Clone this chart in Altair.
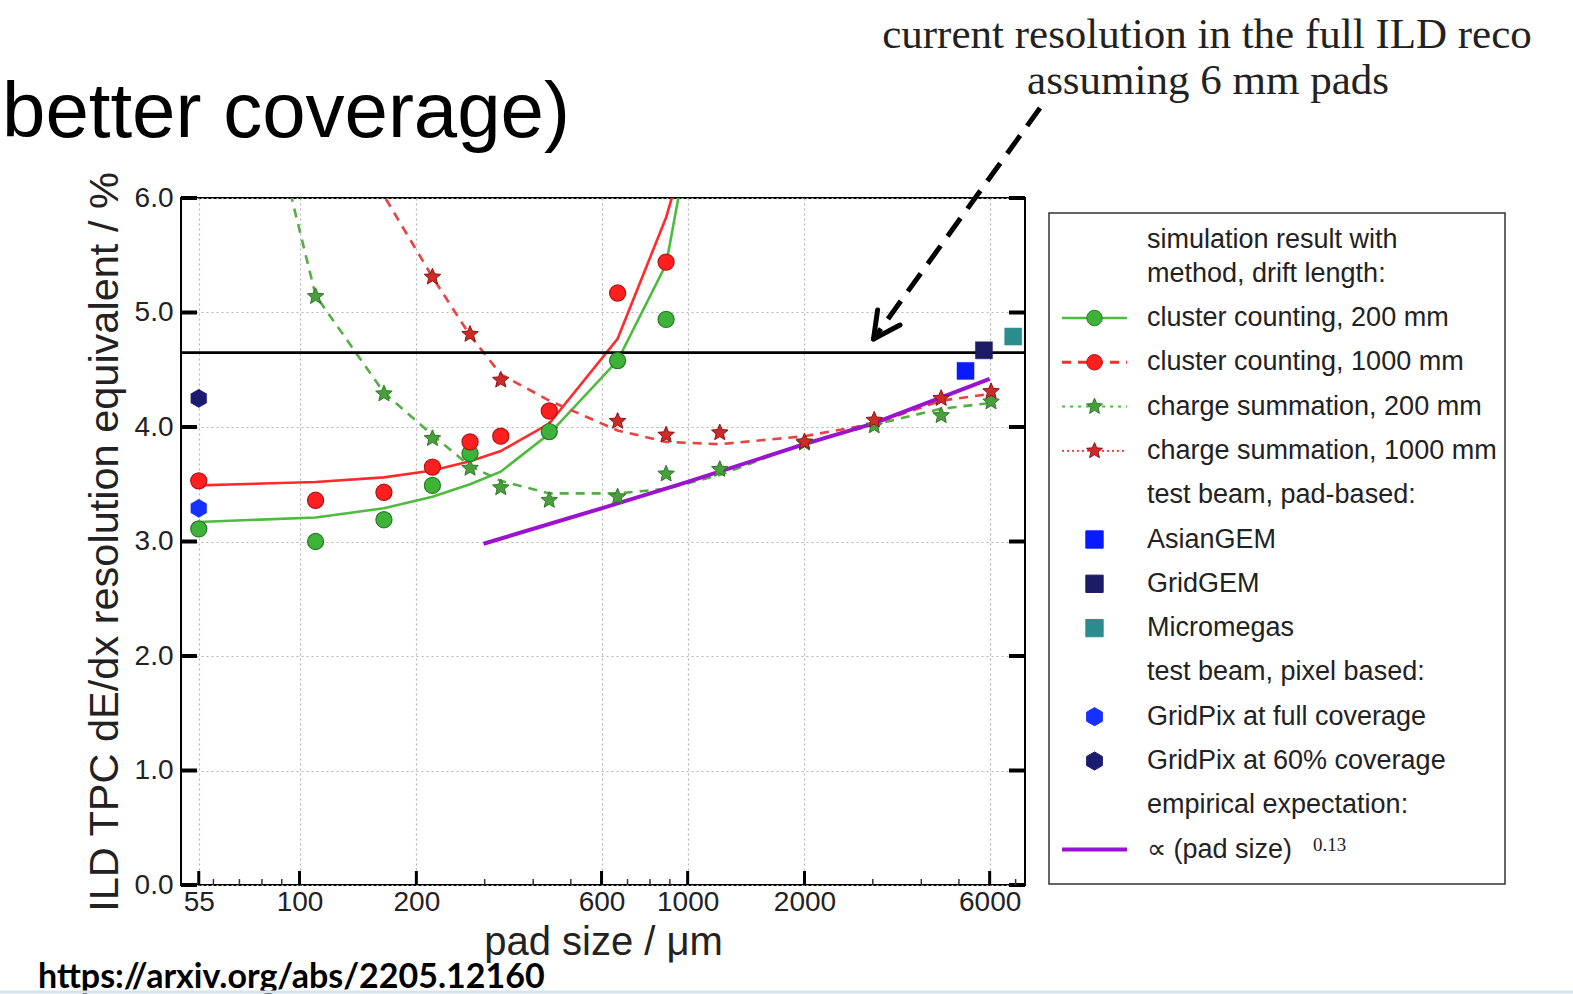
import math

import altair as alt
import pandas as pd

# ---------------- data: pad size in µm, dE/dx resolution in % ----------------
# simulation, cluster counting (points)
CC200_PAD = [55, 110, 165, 220, 275, 440, 660, 880]
CC200_RES = [3.11, 3.00, 3.19, 3.49, 3.77, 3.96, 4.58, 4.94]
CC1000_PAD = [55, 110, 165, 220, 275, 330, 440, 660, 880]
CC1000_RES = [3.53, 3.36, 3.43, 3.65, 3.87, 3.92, 4.14, 5.17, 5.44]

# simulation, charge summation (points)
CS200_PAD = [110, 165, 220, 275, 330, 440, 660, 880, 1210, 2000, 3025, 4500, 6050]
CS200_RES = [5.14, 4.29, 3.90, 3.64, 3.47, 3.36, 3.39, 3.59, 3.63, 3.86, 4.01, 4.10, 4.22]
CS1000_PAD = [220, 275, 330, 440, 660, 880, 1210, 2000, 3025, 4500, 6050]
CS1000_RES = [5.31, 4.81, 4.41, 3.97, 4.05, 3.93, 3.95, 3.87, 4.06, 4.25, 4.31]

# fitted curves
CC_FIT_PAD = [55, 110, 165, 220, 275, 330, 440, 660, 880, 1100]
CC200_FIT = [3.17, 3.21, 3.29, 3.39, 3.50, 3.61, 3.94, 4.58, 5.42, 7.20]
CC1000_FIT = [3.49, 3.52, 3.56, 3.62, 3.70, 3.79, 4.03, 4.77, 5.83, 6.95]
CS200_FIT_PAD = [55, 110, 165, 220, 275, 330, 440, 660, 880, 1210, 2000, 3025, 4500, 6050]
CS200_FIT = [9.30, 5.15, 4.30, 3.93, 3.66, 3.53, 3.42, 3.42, 3.46, 3.58, 3.86, 4.02, 4.16, 4.21]
CS1000_FIT_PAD = [110, 165, 220, 275, 330, 440, 660, 880, 1210, 2000, 3025, 4500, 6050]
CS1000_FIT = [7.40, 6.02, 5.31, 4.80, 4.46, 4.23, 3.97, 3.87, 3.85, 3.92, 4.03, 4.23, 4.29]

# empirical expectation  ∝ (pad size)^0.13
EMP_PAD = [298, 600, 1000, 2000, 3000, 6000]
EMP_RES = [2.98, 3.29, 3.52, 3.85, 4.03, 4.42]

# test beam, pad based
TB_NAMES = ["AsianGEM", "GridGEM", "Micromegas"]
TB_PAD = [5200, 5800, 6900]
TB_RES = [4.49, 4.67, 4.79]

# test beam, pixel based
GP_NAMES = ["GridPix at full coverage", "GridPix at 60% coverage"]
GP_PAD = [55, 55]
GP_RES = [3.29, 4.25]

# current full ILD reconstruction, 6 mm pads
ILD_RES = [4.65]

X_TICKS = [55, 100, 200, 600, 1000, 2000, 6000]
X_MINOR = [60, 70, 80, 90, 300, 400, 500, 700, 800, 900, 3000, 4000, 5000, 7000]
Y_TICKS = [0, 1, 2, 3, 4, 5, 6]

LEG_LABELS = [
    "simulation result with",
    "method, drift length:",
    "cluster counting, 200 mm",
    "cluster counting, 1000 mm",
    "charge summation, 200 mm",
    "charge summation, 1000 mm",
    "test beam, pad-based:",
    "AsianGEM",
    "GridGEM",
    "Micromegas",
    "test beam, pixel based:",
    "GridPix at full coverage",
    "GridPix at 60% coverage",
    "empirical expectation:",
    "\u221d (pad size)",
]

# ---------------- layout and style ----------------
W, H = 844, 687          # plot area
LEFT, TOP = 181, 198     # plot origin on the page
PAGE_W, PAGE_H = 1573, 994

SANS = "Liberation Sans, Arial, Helvetica, sans-serif"
SERIF = "Liberation Serif, Times New Roman, serif"
INK = "#222222"

GREEN_LINE = "#4dbb3d"
GREEN_DOT = "#3db33a"
GREEN_EDGE = "#2b7a24"
GREEN_STAR = "#4b9e3c"
RED_LINE = "#ff2b2b"
RED_DOT = "#ff1f1f"
RED_EDGE = "#b01414"
RED_STAR = "#cf2a2a"
RED_STAR_EDGE = "#8a1515"
PURPLE = "#9b12cf"
TB_COLORS = ["#0a1aff", "#1b1b66", "#2a8c8c"]
GP_COLORS = ["#1530ff", "#1b1b70"]


def star_path(inner=0.45):
    pts = []
    for k in range(10):
        a = math.radians(-90 + 36 * k)
        r = 1.0 if k % 2 == 0 else inner
        pts.append(f"{r * math.cos(a):.3f},{r * math.sin(a):.3f}")
    return "M" + "L".join(pts) + "Z"


STAR = star_path()
HEX = "M0,-1L0.866,-0.5L0.866,0.5L0,1L-0.866,0.5L-0.866,-0.5Z"

xs = alt.Scale(type="log", domain=[49.5, 7400], nice=False)
ys = alt.Scale(domain=[0, 6], nice=False, zero=False)

x_axis = alt.Axis(
    values=X_TICKS, format="d", title="pad size / \u03bcm",
    grid=True, gridDash=[2, 3], gridColor="#b5b5b5", gridWidth=1.2,
    ticks=False, domain=False, labelOverlap=False, labelFlush=False, labelBound=False,
    labelFont=SANS, labelFontSize=28, labelColor=INK, labelPadding=3,
    titleFont=SANS, titleFontSize=40, titleFontWeight="normal", titleColor=INK,
    titlePadding=6,
)
y_axis = alt.Axis(
    values=Y_TICKS, format=".1f", title="ILD TPC dE/dx resolution equivalent / %",
    grid=True, gridDash=[2, 3], gridColor="#b5b5b5", gridWidth=1.2,
    ticks=False, domain=False, labelOverlap=False, labelFlush=False, labelBound=False,
    labelFont=SANS, labelFontSize=28, labelColor=INK, labelPadding=8,
    titleFont=SANS, titleFontSize=41.5, titleFontWeight="normal", titleColor=INK,
    titlePadding=8,
)


def xenc(field="pad"):
    return alt.X(f"{field}:Q", scale=xs, axis=x_axis)


def yenc(field="res"):
    return alt.Y(f"{field}:Q", scale=ys, axis=y_axis)


def table(pads, vals):
    return pd.DataFrame({"pad": pads, "res": vals})


def one():
    return pd.DataFrame({"k": [0]})


def fit_line(pads, vals, color, dash=None, width=2.6):
    kw = dict(color=color, strokeWidth=width, clip=True)
    if dash:
        kw["strokeDash"] = dash
    return alt.Chart(table(pads, vals)).mark_line(**kw).encode(x=xenc(), y=yenc())


def points(pads, vals, shape, size, fill, stroke, sw=1.2):
    return alt.Chart(table(pads, vals)).mark_point(
        shape=shape, size=size, filled=True, fill=fill, stroke=stroke,
        strokeWidth=sw, opacity=1,
    ).encode(x=xenc(), y=yenc())


def text_at(text, x, y, font, size, align="left", baseline="alphabetic",
            weight="normal", color=INK):
    return alt.Chart(pd.DataFrame({"t": [text]})).mark_text(
        align=align, baseline=baseline, font=font, fontSize=size,
        fontWeight=weight, color=color,
    ).encode(x=alt.value(x - LEFT), y=alt.value(y - TOP), text="t:N")


layers = []

# fitted curves and the empirical expectation
layers.append(fit_line(CC_FIT_PAD, CC200_FIT, GREEN_LINE))
layers.append(fit_line(CC_FIT_PAD, CC1000_FIT, RED_LINE))
layers.append(fit_line(CS200_FIT_PAD, CS200_FIT, "#55ad45", dash=[9, 7]))
layers.append(fit_line(CS1000_FIT_PAD, CS1000_FIT, "#ea4141", dash=[9, 7]))
layers.append(fit_line(EMP_PAD, EMP_RES, PURPLE, width=4))

# reference level of the full ILD reconstruction
layers.append(
    alt.Chart(pd.DataFrame({"res": ILD_RES})).mark_rule(color="black", strokeWidth=2.8)
    .encode(y=yenc())
)

# inward ticks on the frame
ytick_df = pd.DataFrame({"res": Y_TICKS})
layers.append(alt.Chart(ytick_df).mark_rule(color="black", strokeWidth=4)
              .encode(y=yenc(), x=alt.value(0), x2=alt.value(16)))
layers.append(alt.Chart(ytick_df).mark_rule(color="black", strokeWidth=4)
              .encode(y=yenc(), x=alt.value(W - 16), x2=alt.value(W)))
layers.append(alt.Chart(pd.DataFrame({"pad": X_TICKS})).mark_rule(color="black", strokeWidth=3)
              .encode(x=xenc(), y=alt.value(H), y2=alt.value(H - 14)))
layers.append(alt.Chart(pd.DataFrame({"pad": X_MINOR})).mark_rule(color="#333333", strokeWidth=1.5)
              .encode(x=xenc(), y=alt.value(H), y2=alt.value(H - 6)))

# simulated points
layers.append(points(CS200_PAD, CS200_RES, STAR, 300, GREEN_STAR, GREEN_EDGE, 1.0))
layers.append(points(CS1000_PAD, CS1000_RES, STAR, 300, RED_STAR, RED_STAR_EDGE, 1.0))
layers.append(points(CC200_PAD, CC200_RES, "circle", 260, GREEN_DOT, GREEN_EDGE))
layers.append(points(CC1000_PAD, CC1000_RES, "circle", 260, RED_DOT, RED_EDGE))

# test beam results
for p, r, c in zip(TB_PAD, TB_RES, TB_COLORS):
    layers.append(points([p], [r], "square", 290, c, c, 0.5))
for p, r, c in zip(GP_PAD, GP_RES, GP_COLORS):
    layers.append(points([p], [r], HEX, 330, c, c, 0.5))

# ---------------- legend ----------------
LEG_Y = [240, 274] + [318 + 44.3 * k for k in range(13)]
LEG_LINE_X0, LEG_LINE_X1, LEG_MARK_X, LEG_TEXT_X = 1062, 1127, 1094.5, 1147

layers.append(
    alt.Chart(one()).mark_rect(fill="white", stroke="#333333", strokeWidth=1.5)
    .encode(x=alt.value(1049 - LEFT), x2=alt.value(1505 - LEFT),
            y=alt.value(213 - TOP), y2=alt.value(884 - TOP))
)

LEG_SWATCH = {
    2: dict(line=(GREEN_LINE, None, 2.6), mark=("circle", GREEN_DOT, GREEN_EDGE, 240)),
    3: dict(line=(RED_LINE, [9, 7], 3), mark=("circle", RED_DOT, RED_EDGE, 240)),
    4: dict(line=(GREEN_LINE, [3, 5], 2), mark=(STAR, GREEN_STAR, GREEN_EDGE, 280)),
    5: dict(line=(RED_LINE, [2, 3], 1.6), mark=(STAR, RED_STAR, RED_STAR_EDGE, 280)),
    7: dict(mark=("square", TB_COLORS[0], TB_COLORS[0], 300)),
    8: dict(mark=("square", TB_COLORS[1], TB_COLORS[1], 300)),
    9: dict(mark=("square", TB_COLORS[2], TB_COLORS[2], 300)),
    11: dict(mark=(HEX, GP_COLORS[0], GP_COLORS[0], 330)),
    12: dict(mark=(HEX, GP_COLORS[1], GP_COLORS[1], 330)),
    14: dict(line=(PURPLE, None, 4)),
}

for i, (lab, yy) in enumerate(zip(LEG_LABELS, LEG_Y)):
    layers.append(text_at(lab, LEG_TEXT_X, yy, SANS, 27, baseline="middle"))
    sw = LEG_SWATCH.get(i)
    if not sw:
        continue
    if "line" in sw:
        color, dash, width = sw["line"]
        kw = dict(color=color, strokeWidth=width)
        if dash:
            kw["strokeDash"] = dash
        layers.append(alt.Chart(one()).mark_rule(**kw).encode(
            x=alt.value(LEG_LINE_X0 - LEFT), x2=alt.value(LEG_LINE_X1 - LEFT),
            y=alt.value(yy - TOP)))
    if "mark" in sw:
        shape, fill, stroke, size = sw["mark"]
        layers.append(alt.Chart(one()).mark_point(
            shape=shape, size=size, filled=True, fill=fill, stroke=stroke,
            strokeWidth=1, opacity=1,
        ).encode(x=alt.value(LEG_MARK_X - LEFT), y=alt.value(yy - TOP)))

# exponent of the empirical law
layers.append(text_at("0.13", 1313, 851, SERIF, 19))

# ---------------- annotation ----------------
layers.append(text_at("current resolution in the full ILD reco", 1207, 48, SERIF, 43, align="center"))
layers.append(text_at("assuming 6 mm pads", 1208, 94, SERIF, 43, align="center"))

ARROW_TAIL = (1040, 108)
ARROW_TIP = (873.5, 339)
ARROW_ARMS = [(877.6, 310), (900, 325)]
layers.append(
    alt.Chart(one()).mark_rule(color="black", strokeWidth=5, strokeDash=[22, 12])
    .encode(x=alt.value(ARROW_TAIL[0] - LEFT), y=alt.value(ARROW_TAIL[1] - TOP),
            x2=alt.value(ARROW_TIP[0] - LEFT), y2=alt.value(ARROW_TIP[1] - TOP))
)
for ax, ay in ARROW_ARMS:
    layers.append(
        alt.Chart(one()).mark_rule(color="black", strokeWidth=5, strokeCap="round")
        .encode(x=alt.value(ARROW_TIP[0] - LEFT), y=alt.value(ARROW_TIP[1] - TOP),
                x2=alt.value(ax - LEFT), y2=alt.value(ay - TOP))
    )

# ---------------- slide text ----------------
layers.append(text_at("better coverage)", 2, 137, SANS, 78, color="black"))
layers.append(text_at("https://arxiv.org/abs/2205.12160", 38, 988, "Lato, Liberation Sans, sans-serif",
                      34, weight="bold", color="black"))
layers.append(
    alt.Chart(one()).mark_rule(color="#d3e4f0", strokeWidth=3)
    .encode(x=alt.value(-LEFT), x2=alt.value(PAGE_W - LEFT), y=alt.value(PAGE_H - 2 - TOP))
)

chart = (
    alt.layer(*layers)
    .properties(
        width=W, height=H,
        autosize=alt.AutoSizeParams(type="none"),
        padding={"left": LEFT, "top": TOP, "right": PAGE_W - LEFT - W, "bottom": PAGE_H - TOP - H},
        background="white",
    )
    .configure_view(stroke="black", strokeWidth=2)
)

chart.save("out.html", embed_options={"renderer": "svg", "actions": False})
